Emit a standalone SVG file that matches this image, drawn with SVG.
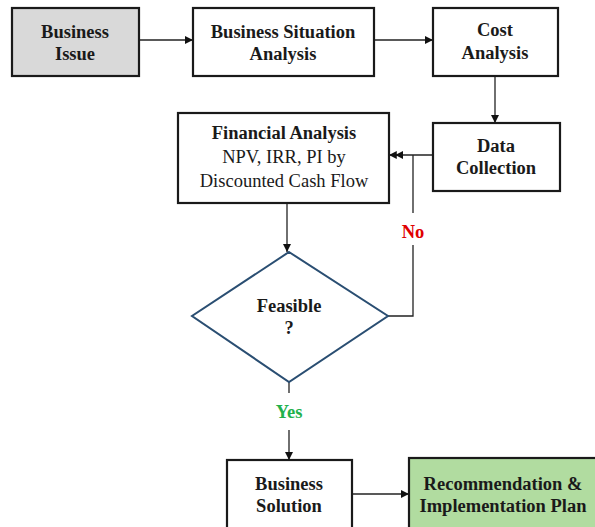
<svg xmlns="http://www.w3.org/2000/svg" width="595" height="527" viewBox="0 0 595 527">
<defs>
<marker id="ah" viewBox="0 0 10 10" refX="10" refY="5" markerWidth="8" markerHeight="8" markerUnits="userSpaceOnUse" orient="auto">
<path d="M0,0 L10,5 L0,10 Z" fill="#111"/>
</marker>
<marker id="ah2" viewBox="0 0 18 10" refX="18" refY="5" markerWidth="14" markerHeight="8" markerUnits="userSpaceOnUse" orient="auto">
<path d="M0,0 L10,5 L0,10 Z M8,0 L18,5 L8,10 Z" fill="#111"/>
</marker>
<style>
.box{fill:#fff;stroke:#1a1a1a;stroke-width:2.2}
.t{font-family:"Liberation Serif","Times New Roman",serif;font-size:18.5px;fill:#1a1a1a;text-anchor:middle}
.b{font-weight:bold}
.c{fill:none;stroke:#222;stroke-width:1.3}
</style>
</defs>
<rect width="595" height="527" fill="#fff"/>
<g id="connectors">
<line class="c" x1="139" y1="40" x2="193" y2="40" marker-end="url(#ah)"/>
<line class="c" x1="374" y1="40" x2="433" y2="40" marker-end="url(#ah)"/>
<line class="c" x1="495" y1="76" x2="495" y2="123" marker-end="url(#ah)"/>
<line class="c" x1="433" y1="155" x2="389" y2="155" marker-end="url(#ah2)"/>
<polyline class="c" points="413,155 413,213"/>
<polyline class="c" points="413,245 413,316 388,316"/>
<line class="c" x1="287" y1="203" x2="287" y2="252" marker-end="url(#ah)"/>
<line class="c" x1="289" y1="382" x2="289" y2="393"/>
<line class="c" x1="289" y1="430" x2="289" y2="460" marker-end="url(#ah)"/>
<line class="c" x1="352" y1="494" x2="409" y2="494" marker-end="url(#ah)"/>
<text class="t b" x="413" y="238" style="fill:#e00000">No</text>
<text class="t b" x="289" y="418" style="fill:#22b14c">Yes</text>
</g>
<g id="business-issue">
<rect class="box" x="12" y="8" width="127" height="68" style="fill:#d9d9d9"/>
<text class="t b" x="75" y="38">Business</text>
<text class="t b" x="75" y="60">Issue</text>
</g>
<g id="business-situation">
<rect class="box" x="193" y="8" width="181" height="68"/>
<text class="t b" x="283" y="38">Business Situation</text>
<text class="t b" x="283" y="60">Analysis</text>
</g>
<g id="cost-analysis">
<rect class="box" x="433" y="8" width="125" height="68"/>
<text class="t b" x="495" y="36">Cost</text>
<text class="t b" x="495" y="59">Analysis</text>
</g>
<g id="data-collection">
<rect class="box" x="433" y="123" width="127" height="68"/>
<text class="t b" x="496" y="152">Data</text>
<text class="t b" x="496" y="174">Collection</text>
</g>
<g id="financial-analysis">
<rect class="box" x="178" y="113" width="211" height="90"/>
<text class="t b" x="284" y="139">Financial Analysis</text>
<text class="t" x="284" y="163">NPV, IRR, PI by</text>
<text class="t" x="284" y="187">Discounted Cash Flow</text>
</g>
<g id="feasible">
<polygon points="289,252 388,316 289,382 192,316" fill="#fff" stroke="#2a4e72" stroke-width="2"/>
<text class="t b" x="289" y="312">Feasible</text>
<text class="t b" x="289" y="334">?</text>
</g>
<g id="business-solution">
<rect class="box" x="227" y="460" width="125" height="80"/>
<text class="t b" x="289" y="490">Business</text>
<text class="t b" x="289" y="512">Solution</text>
</g>
<g id="recommendation">
<rect class="box" x="409" y="458" width="190" height="80" style="fill:#b1dca0"/>
<text class="t b" x="503" y="490">Recommendation &amp;</text>
<text class="t b" x="503" y="512">Implementation Plan</text>
</g>
</svg>
